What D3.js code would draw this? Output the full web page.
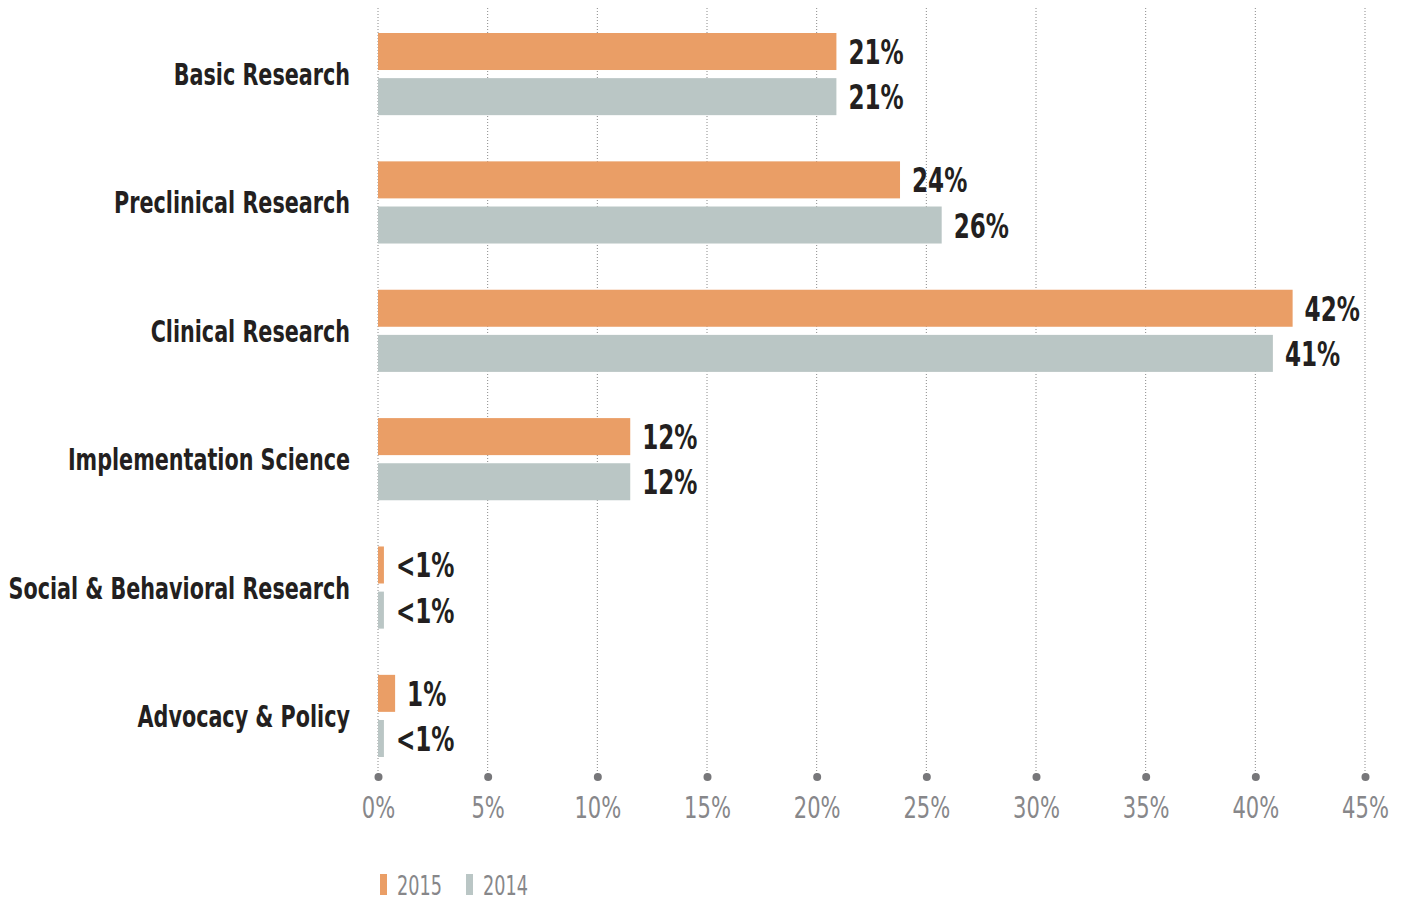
<!DOCTYPE html>
<html>
<head>
<meta charset="utf-8">
<script src="https://cdn.jsdelivr.net/npm/d3@7"></script>
<style>
  body { margin: 0; background: #fff; }
  svg { display: block; }
  .cond { font-family: 'DejaVu Sans Condensed', 'DejaVu Sans', sans-serif; }
</style>
</head>
<body>
<script>
// data
var categories = ["Basic Research", "Preclinical Research", "Clinical Research",
                  "Implementation Science", "Social & Behavioral Research", "Advocacy & Policy"];
var years = ["2015", "2014"];
var values2015 = [20.9, 23.8, 41.7, 11.5, 0.27, 0.78];
var values2014 = [20.9, 25.7, 40.8, 11.5, 0.27, 0.27];
var labels2015 = ["21%", "24%", "42%", "12%", "<1%", "1%"];
var labels2014 = ["21%", "26%", "41%", "12%", "<1%", "<1%"];
var ticks = [0, 5, 10, 15, 20, 25, 30, 35, 40, 45];

var width = 1404, height = 901;
var colors = { "2015": "#ea9e66", "2014": "#bac6c5" };
var squeeze = 0.755; // the original face is a narrow gothic, fake it

var svg = d3.select("body").append("svg")
    .attr("width", width)
    .attr("height", height);

var x = d3.scaleLinear()
    .domain([0, 45])
    .range([378, 1365]);

var y = d3.scaleBand()
    .domain(categories)
    .range([33, 757])
    .paddingInner(0.36)
    .paddingOuter(0);

var sub = d3.scaleBand()
    .domain(years)
    .range([0, y.bandwidth()])
    .paddingInner(0.18);

function place(px, py) {
  return "translate(" + px + "," + py + ") scale(" + squeeze + ",1)";
}

// dotted gridlines
svg.append("g").attr("class", "grid")
  .selectAll("line")
    .data(ticks)
    .enter().append("line")
    .attr("x1", function(d) { return x(d); })
    .attr("x2", function(d) { return x(d); })
    .attr("y1", 8)
    .attr("y2", 777)
    .attr("stroke", "#8a8a8a")
    .attr("stroke-width", 1)
    .attr("stroke-dasharray", "1,2");

var rows = [];
categories.forEach(function(c, i) {
  rows.push({ cat: c, year: "2015", v: values2015[i], label: labels2015[i] });
  rows.push({ cat: c, year: "2014", v: values2014[i], label: labels2014[i] });
});

svg.append("g").selectAll("rect")
    .data(rows)
    .enter().append("rect")
    .attr("x", x(0))
    .attr("y", function(d) { return y(d.cat) + sub(d.year); })
    .attr("width", function(d) { return x(d.v) - x(0); })
    .attr("height", sub.bandwidth())
    .style("fill", function(d) { return colors[d.year]; });

// value labels
svg.append("g").selectAll("text")
    .data(rows)
    .enter().append("text")
    .attr("class", "cond")
    .attr("transform", function(d) {
      return place(x(d.v) + 12, y(d.cat) + sub(d.year) + sub.bandwidth() / 2 + 12.5);
    })
    .style("font-size", "34px")
    .style("font-weight", "bold")
    .style("fill", "#231f20")
    .text(function(d) { return d.label; });

// category labels
svg.append("g").selectAll("text")
    .data(categories)
    .enter().append("text")
    .attr("class", "cond")
    .attr("transform", function(d) { return place(350, y(d) + y.bandwidth() / 2 + 11); })
    .attr("text-anchor", "end")
    .style("font-size", "30.5px")
    .style("font-weight", "bold")
    .style("fill", "#231f20")
    .text(function(d) { return d; });

// axis
var xAxis = d3.axisBottom(x)
    .tickValues(ticks)
    .tickSize(0)
    .tickPadding(0)
    .tickFormat(function(d) { return d + "%"; });

var ax = svg.append("g")
    .attr("transform", "translate(0,777)")
    .call(xAxis);
ax.select(".domain").remove();
ax.selectAll(".tick text")
    .attr("class", "cond")
    .attr("y", null)
    .attr("dy", null)
    .attr("transform", place(0, 41))
    .style("font-size", "31px")
    .style("fill", "#87878a");
ax.selectAll(".tick").append("circle")
    .attr("r", 4)
    .style("fill", "#77777a");

// legend
var legend = svg.append("g").attr("transform", "translate(380,874)");
var items = legend.selectAll("g")
    .data(years)
    .enter().append("g")
    .attr("transform", function(d, i) { return "translate(" + (i * 86) + ",0)"; });
items.append("rect")
    .attr("width", 7)
    .attr("height", 21)
    .style("fill", function(d) { return colors[d]; });
items.append("text")
    .attr("class", "cond")
    .attr("transform", place(17, 21))
    .style("font-size", "26px")
    .style("fill", "#87878a")
    .text(function(d) { return d; });
</script>
</body>
</html>
